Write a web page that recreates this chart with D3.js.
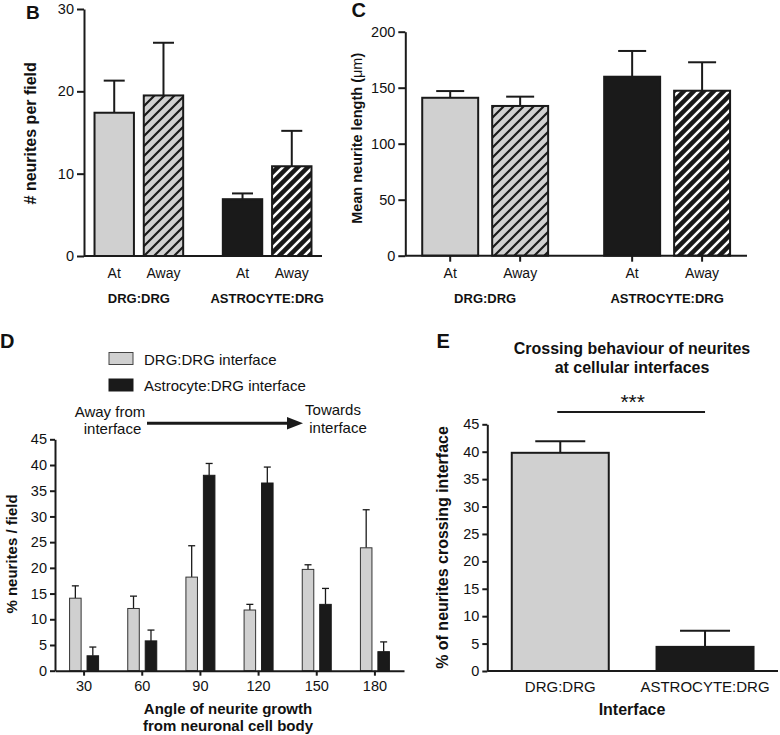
<!DOCTYPE html>
<html><head><meta charset="utf-8">
<script src="https://cdn.jsdelivr.net/npm/d3@7"></script>
<style>
html,body{margin:0;padding:0;background:#fff;}
svg text{font-family:"Liberation Sans",Arial,Helvetica,sans-serif;fill:#111;}
</style></head>
<body>
<svg id="c" width="780" height="735"></svg>
<script>
// ---------- DATA ----------
const groupsBC = ["DRG:DRG", "ASTROCYTE:DRG"];
const conds = ["At", "Away"];
const bMeans = [[17.4, 19.5], [6.9, 10.9]];
const bSem = [[3.9, 6.4], [0.7, 4.3]];
const bTicks = [0, 10, 20, 30];
const cMeans = [[141, 133.7], [159.8, 147.3]];
const cSem = [[6, 8.3], [23, 25.4]];
const cTicks = [0, 50, 100, 150, 200];
const angles = [30, 60, 90, 120, 150, 180];
const dDrg = [14.1, 12.1, 18.2, 11.8, 19.7, 23.9];
const dDrgSem = [2.4, 2.4, 6.1, 1.1, 0.9, 7.4];
const dAstro = [2.9, 5.8, 38.0, 36.5, 12.9, 3.7];
const dAstroSem = [1.7, 2.1, 2.3, 3.1, 3.1, 1.9];
const dTicks = [0, 5, 10, 15, 20, 25, 30, 35, 40, 45];
const eCats = ["DRG:DRG", "ASTROCYTE:DRG"];
const eMeans = [39.8, 4.4];
const eSem = [2.1, 2.95];
const eTicks = [0, 5, 10, 15, 20, 25, 30, 35, 40, 45];
const legendLabels = ["DRG:DRG interface", "Astrocyte:DRG interface"];

// ---------- STYLE ----------
const GRAY = "#d0d0d0", BLACK = "#1a1a1a", INK = "#1a1a1a";
const svg = d3.select("#c");
const defs = svg.append("defs");
function hatch(id, bg, fg, sw) {
  const p = defs.append("pattern").attr("id", id).attr("patternUnits", "userSpaceOnUse")
    .attr("width", 10).attr("height", 10);
  p.append("rect").attr("width", 10).attr("height", 10).attr("fill", bg);
  p.append("path").attr("d", "M-2,2 L2,-2 M0,10 L10,0 M8,12 L12,8")
    .attr("stroke", fg).attr("stroke-width", sw);
}
hatch("hGray", GRAY, INK, 2.2);
hatch("hBlack", BLACK, "#fff", 2.6);

const fills = [[GRAY, "url(#hGray)"], [BLACK, "url(#hBlack)"]];

function yAxis(g, y, ticks, x0, tickLen, fs, sw) {
  const a = g.append("g").attr("transform", `translate(${x0},0)`)
    .call(d3.axisLeft(y).tickValues(ticks).tickSize(tickLen).tickPadding(3).tickSizeOuter(0));
  a.select(".domain").attr("stroke", INK).attr("stroke-width", sw);
  a.selectAll(".tick line").attr("stroke", INK).attr("stroke-width", sw);
  a.selectAll(".tick text").attr("font-size", fs).attr("fill", "#111")
    .attr("font-family", '"Liberation Sans",Arial,sans-serif');
  return a;
}
function label(txt, x, y, fs, bold, anchor, rot) {
  const t = svg.append("text").text(txt).attr("font-size", fs)
    .attr("font-weight", bold ? "bold" : "normal").attr("text-anchor", anchor || "middle");
  if (rot) t.attr("transform", `translate(${x},${y}) rotate(-90)`);
  else t.attr("x", x).attr("y", y);
  return t;
}

// ---------- Panels B and C (grouped) ----------
function groupedPanel(opt) {
  const g = svg.append("g");
  const x0 = d3.scaleBand().domain(groupsBC).range([opt.xl, opt.xr])
    .paddingInner(opt.pI).paddingOuter(opt.pO);
  const x1 = d3.scaleBand().domain(conds).range([0, x0.bandwidth()]).paddingInner(0.2);
  const y = d3.scaleLinear().domain([0, opt.max]).range([opt.y0, opt.yTop]);
  groupsBC.forEach((grp, gi) => {
    conds.forEach((cd, ci) => {
      const m = opt.means[gi][ci], s = opt.sem[gi][ci];
      const bx = x0(grp) + x1(cd), bw = x1.bandwidth(), cx = bx + bw / 2;
      g.append("line").attr("x1", cx).attr("x2", cx).attr("y1", y(m)).attr("y2", y(m + s))
        .attr("stroke", INK).attr("stroke-width", 2);
      g.append("line").attr("x1", cx - opt.cap / 2).attr("x2", cx + opt.cap / 2)
        .attr("y1", y(m + s)).attr("y2", y(m + s)).attr("stroke", INK).attr("stroke-width", 2);
      g.append("rect").attr("x", bx).attr("y", y(m)).attr("width", bw).attr("height", y(0) - y(m))
        .attr("fill", fills[gi][ci]).attr("stroke", INK).attr("stroke-width", 2);
      if (opt.xticks) g.append("line").attr("x1", cx).attr("x2", cx).attr("y1", y(0)).attr("y2", y(0) + 6)
        .attr("stroke", INK).attr("stroke-width", 2);
      label(cd, cx, 278, 14, false);
    });
    label(grp, x0(grp) + x0.bandwidth() / 2, 303, 13, true);
  });
  g.append("line").attr("x1", opt.xl).attr("x2", opt.xr).attr("y1", y(0)).attr("y2", y(0))
    .attr("stroke", INK).attr("stroke-width", 2);
  yAxis(g, y, opt.ticks, opt.xl, 7, 14.5, 2);
}
groupedPanel({xl: 84, xr: 322, pI: 0.309, pO: 0.082, y0: 256, yTop: 9, max: 30,
  means: bMeans, sem: bSem, ticks: bTicks, cap: 21, xticks: false});
groupedPanel({xl: 405.3, xr: 747, pI: 0.308, pO: 0.093, y0: 255.7, yTop: 31.7, max: 200,
  means: cMeans, sem: cSem, ticks: cTicks, cap: 28, xticks: true});
label("B", 26, 19, 19, true, "start");
label("C", 351.5, 17, 20, true, "start");
label("# neurites per field", 36, 133.3, 16, true, "middle", true);
const cy = label("", 362, 138.3, 14.5, true, "middle", true);
cy.append("tspan").text("Mean neurite length (");
cy.append("tspan").text("\u03bcm").attr("font-weight", "normal");
cy.append("tspan").text(")");

// ---------- Panel D ----------
(function () {
  const g = svg.append("g");
  const x = d3.scaleBand().domain(angles).range([55, 404]).padding(0);
  const x1 = d3.scaleBand().domain(["drg", "astro"]).range([-14.5, 14.5]).paddingInner(0.34);
  const y = d3.scaleLinear().domain([0, 45]).range([670.7, 439.3]);
  const series = [
    {k: "drg", v: dDrg, s: dDrgSem, fill: GRAY, stroke: "#333", sw: 1},
    {k: "astro", v: dAstro, s: dAstroSem, fill: BLACK, stroke: BLACK, sw: 1}
  ];
  angles.forEach((a, i) => {
    const c = x(a) + x.bandwidth() / 2;
    series.forEach(sr => {
      const bx = c + x1(sr.k), bw = x1.bandwidth(), cx = bx + bw / 2;
      const m = sr.v[i], e = sr.s[i];
      g.append("line").attr("x1", cx).attr("x2", cx).attr("y1", y(m)).attr("y2", y(m + e))
        .attr("stroke", INK).attr("stroke-width", 1.3);
      g.append("line").attr("x1", cx - 3.5).attr("x2", cx + 3.5).attr("y1", y(m + e)).attr("y2", y(m + e))
        .attr("stroke", INK).attr("stroke-width", 1.3);
      g.append("rect").attr("x", bx).attr("y", y(m)).attr("width", bw).attr("height", y(0) - y(m))
        .attr("fill", sr.fill).attr("stroke", sr.stroke).attr("stroke-width", sr.sw);
    });
  });
  const xa = g.append("g").attr("transform", `translate(0,${y(0)})`)
    .call(d3.axisBottom(x).tickSize(5).tickPadding(5).tickSizeOuter(0));
  xa.select(".domain").attr("stroke", INK).attr("stroke-width", 2);
  xa.selectAll(".tick line").attr("stroke", INK).attr("stroke-width", 2);
  xa.selectAll(".tick text").attr("font-size", 14.5).attr("fill", "#111")
    .attr("font-family", '"Liberation Sans",Arial,sans-serif');
  yAxis(g, y, dTicks, 55, 5, 14.5, 2);

  // legend
  [[GRAY, "#444"], [BLACK, BLACK]].forEach((c, i) => {
    g.append("rect").attr("x", 109).attr("y", 352.5 + i * 26.5).attr("width", 24).attr("height", 12)
      .attr("fill", c[0]).attr("stroke", c[1]).attr("stroke-width", 1);
    label(legendLabels[i], 144, 364.5 + i * 26.5, 15, false, "start");
  });
  // arrow
  g.append("line").attr("x1", 147).attr("x2", 290).attr("y1", 423.3).attr("y2", 423.3)
    .attr("stroke", INK).attr("stroke-width", 3);
  g.append("path").attr("d", "M287,417 L303,423.3 L287,429.6 Z").attr("fill", INK);
  label("Away from", 110, 416.5, 15, false);
  label("interface", 112.5, 434, 15, false);
  label("Towards", 333, 415, 15, false);
  label("interface", 338, 432.7, 15, false);
  label("Angle of neurite growth", 228, 714, 15, true);
  label("from neuronal cell body", 228, 731, 15, true);
  label("% neurites / field", 17, 554, 15, true, "middle", true);
  label("D", 0, 348, 20, true, "start");
})();

// ---------- Panel E ----------
(function () {
  const g = svg.append("g");
  const x = d3.scaleBand().domain(eCats).range([487.3, 778]).paddingInner(0.33).paddingOuter(0.169);
  const y = d3.scaleLinear().domain([0, 45]).range([671, 424.3]);
  const fillsE = [GRAY, BLACK];
  eCats.forEach((c, i) => {
    const bx = x(c), bw = x.bandwidth(), cx = bx + bw / 2;
    const m = eMeans[i], e = eSem[i];
    g.append("line").attr("x1", cx).attr("x2", cx).attr("y1", y(m)).attr("y2", y(m + e))
      .attr("stroke", INK).attr("stroke-width", 2);
    g.append("line").attr("x1", cx - 25).attr("x2", cx + 25).attr("y1", y(m + e)).attr("y2", y(m + e))
      .attr("stroke", INK).attr("stroke-width", 2);
    g.append("rect").attr("x", bx).attr("y", y(m)).attr("width", bw).attr("height", y(0) - y(m))
      .attr("fill", fillsE[i]).attr("stroke", INK).attr("stroke-width", 2);
    label(c, cx, 691.7, 15, false);
  });
  g.append("line").attr("x1", 487.3).attr("x2", 778).attr("y1", y(0)).attr("y2", y(0))
    .attr("stroke", INK).attr("stroke-width", 2);
  yAxis(g, y, eTicks, 487.3, 5, 14.5, 2);
  // significance
  const c0 = x(eCats[0]) + x.bandwidth() / 2, c1 = x(eCats[1]) + x.bandwidth() / 2;
  g.append("line").attr("x1", c0 - 3).attr("x2", c1).attr("y1", 412).attr("y2", 412)
    .attr("stroke", INK).attr("stroke-width", 2);
  label("***", (c0 + c1) / 2, 409, 21, false);
  label("Crossing behaviour of neurites", 632, 353.5, 16, true);
  label("at cellular interfaces", 632, 372.5, 16, true);
  label("Interface", 632, 715, 16, true);
  label("% of neurites crossing interface", 448, 547.5, 16, true, "middle", true);
  label("E", 436.5, 348, 20, true, "start");
})();
</script>
</body></html>
